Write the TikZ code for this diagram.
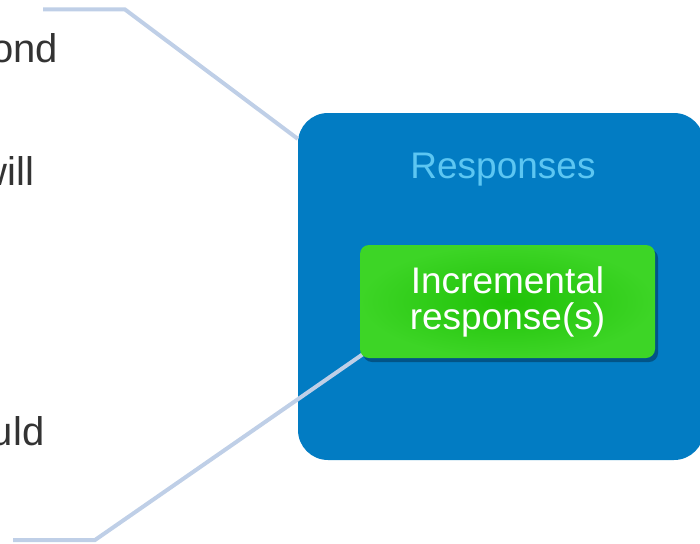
\documentclass[tikz,border=0pt]{standalone}
\usepackage{fontspec}
\setmainfont{Liberation Sans}
\usetikzlibrary{shadows}
\definecolor{boxblue}{HTML}{027CC3}
\definecolor{lightblue}{HTML}{5CC6F2}
\definecolor{linecol}{HTML}{BFCFE7}
\definecolor{greenin}{HTML}{20C208}
\definecolor{greenout}{HTML}{3DD526}
\definecolor{textgray}{HTML}{333333}
\definecolor{shadowblue}{HTML}{023A60}
\pgfdeclarelayer{front}
\pgfsetlayers{main,front}
\begin{document}
\begin{tikzpicture}[x=1pt,y=-1pt,
  bigfont/.style={font=\fontsize{37}{36}\selectfont},
  sidetext/.style={font=\fontsize{40}{44}\selectfont, text=textgray, anchor=base east, inner sep=0pt},
  connector/.style={draw=linecol, line width=4pt},
  outerbox/.style={fill=boxblue, rounded corners=30pt, minimum width=406pt, minimum height=347pt, inner sep=0pt},
  innerbox/.style={inner color=greenin, outer color=greenout, rounded corners=9pt,
    minimum width=295pt, minimum height=113pt,
    drop shadow={shadow xshift=3pt, shadow yshift=-4pt, opacity=0.6, fill=shadowblue},
    text=white, align=center, bigfont, inner sep=0pt}]
\useasboundingbox (0,0) rectangle (700,543);
\clip (0,0) rectangle (700,543);
\node[outerbox] (resp) at (501,286.5) {};
\node[bigfont, text=lightblue, anchor=base, inner sep=0pt] (title) at (503,178) {Responses};
\node[sidetext] (s1) at (58,63) {ond};
\node[sidetext] (s2) at (34.5,185) {will};
\node[sidetext] (s3) at (44.5,445) {uld};
\begin{pgfonlayer}{front}
\node[innerbox] (inc) at (507.5,301.5) {Incremental\\response(s)};
\end{pgfonlayer}
\coordinate (t0) at (43,9.5);
\coordinate (t1) at (125,9.5);
\coordinate (b0) at (13,540);
\coordinate (b1) at (95,540);
\draw[connector] (t0) -- (t1) -- (resp.144);
\draw[connector] (b0) -- (b1) -- ([shift={(3pt,4pt)}]inc.south west);
\end{tikzpicture}
\end{document}
